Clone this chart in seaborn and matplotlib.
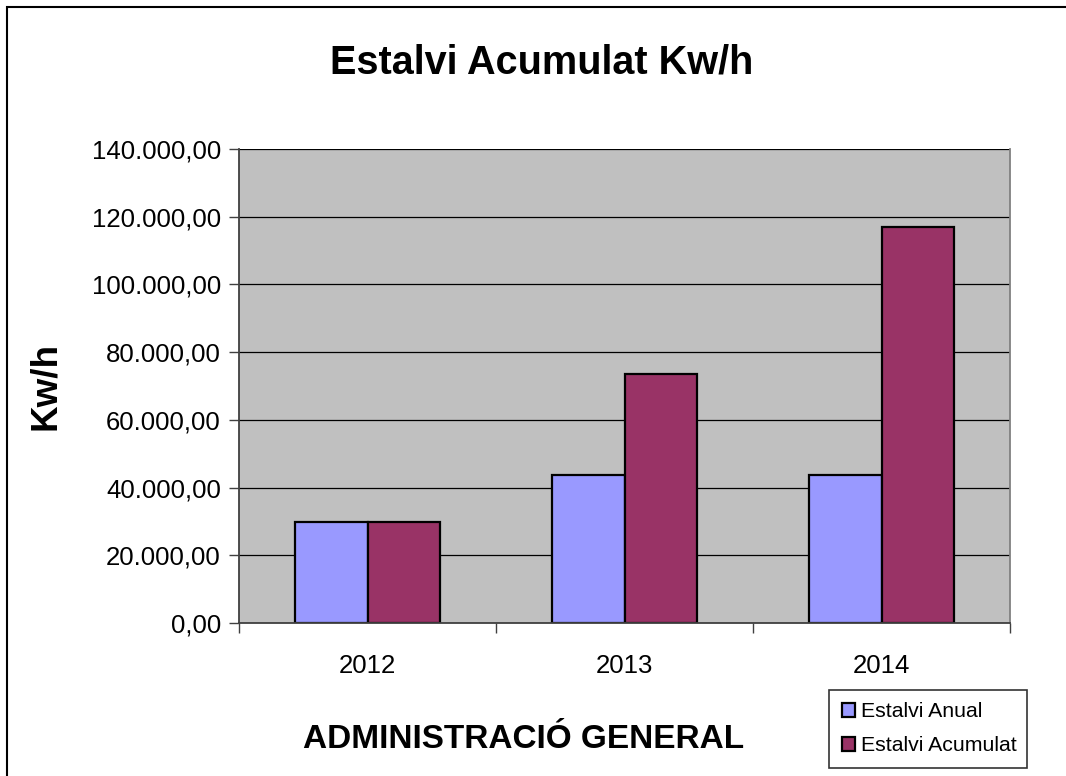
import numpy as np
import pandas as pd
import seaborn as sns
import matplotlib.pyplot as plt
from matplotlib.ticker import FuncFormatter, FixedLocator
from matplotlib.patches import Rectangle

years = ["2012", "2013", "2014"]
estalvi_anual = [29700, 43700, 43600]
estalvi_acumulat = [29700, 73500, 117100]
series_names = ["Estalvi Anual", "Estalvi Acumulat"]
colors = ["#9999FF", "#993366"]

df = pd.DataFrame({
    "year": years * 2,
    "value": estalvi_anual + estalvi_acumulat,
    "serie": [series_names[0]] * 3 + [series_names[1]] * 3,
})

sns.set_style("white")
plt.rcParams["font.family"] = ["Liberation Sans", "DejaVu Sans"]
plt.rcParams["text.color"] = "black"
plt.rcParams["xtick.color"] = "black"
plt.rcParams["ytick.color"] = "black"

fig = plt.figure(figsize=(10.66, 7.76), dpi=100)
ax = fig.add_axes([239 / 1066, 1 - 623 / 776, 771 / 1066, 474 / 776])

sns.barplot(data=df, x="year", y="value", hue="serie", palette=colors,
            width=0.568, gap=0, edgecolor="black", linewidth=1.6,
            saturation=1, ax=ax, legend=True, errorbar=None)

ax.set_facecolor("#C0C0C0")
ax.set_xlim(-0.5, 2.5)
ax.set_ylim(0, 140000)
ax.yaxis.set_major_locator(FixedLocator(np.arange(0, 140001, 20000)))
ax.yaxis.set_major_formatter(FuncFormatter(
    lambda v, p: f"{v:,.2f}".replace(",", "X").replace(".", ",").replace("X", ".")))
ax.grid(axis="y", color="black", linewidth=0.9)
ax.set_axisbelow(True)

ax.xaxis.set_minor_locator(FixedLocator([-0.5, 0.5, 1.5, 2.5]))
ax.tick_params(axis="x", which="major", length=0, labelsize=18.5, pad=22)
ax.tick_params(axis="x", which="minor", length=7, width=1, color="#404040", bottom=True)
ax.tick_params(axis="y", length=7, width=1, color="#404040", labelsize=18.5, pad=6, left=True)

for side in ["left", "bottom"]:
    ax.spines[side].set_color("#404040")
    ax.spines[side].set_linewidth(1.3)
ax.spines["right"].set_visible(True)
ax.spines["right"].set_color("#808080")
ax.spines["right"].set_linewidth(1.3)
ax.spines["top"].set_visible(False)

ax.set_xlabel("")
ax.set_ylabel("")

fig.text(542 / 1066, 1 - 63 / 776, "Estalvi Acumulat Kw/h", ha="center", va="center",
         fontsize=28.5, fontweight="bold")
fig.text(45 / 1066, 1 - 386 / 776, "Kw/h", ha="center", va="center", rotation=90,
         fontsize=26.5, fontweight="bold")
fig.text(524 / 1066, 1 - 740 / 776, "ADMINISTRACIÓ GENERAL", ha="center", va="center",
         fontsize=24, fontweight="bold")

handles, labels = ax.get_legend_handles_labels()
ax.legend(handles, labels, loc="lower left",
          bbox_to_anchor=(829 / 1066, 1 - 768 / 776, 198 / 1066, 77 / 776),
          bbox_transform=fig.transFigure, mode="expand",
          frameon=True, fancybox=False, edgecolor="black", fontsize=15.3,
          handlelength=0.6, handleheight=0.6, handletextpad=0.3,
          borderpad=0.6, labelspacing=0.7, borderaxespad=0)
ax.get_legend().get_frame().set_linewidth(1.2)

fig.patches.append(Rectangle((7 / 1066, -0.05), 1.2, 1 - 7 / 776 + 0.05,
                             transform=fig.transFigure, fill=False,
                             edgecolor="black", linewidth=1.5))

fig.savefig("out.png", dpi=100, facecolor="white")
